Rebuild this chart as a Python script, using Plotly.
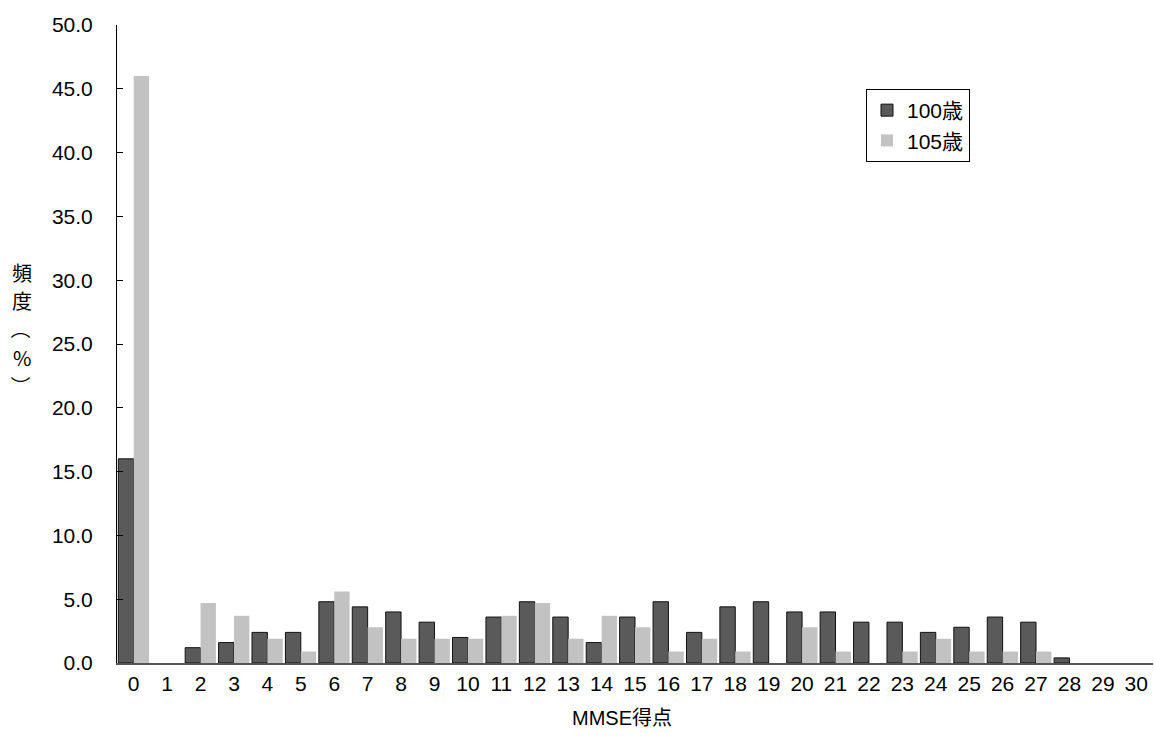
import plotly.graph_objects as go

categories = list(range(31))
tick_labels = [str(c) for c in categories]

age100 = [16.0, 0.0, 1.2, 1.6, 2.4, 2.4, 4.8, 4.4, 4.0, 3.2,
          2.0, 3.6, 4.8, 3.6, 1.6, 3.6, 4.8, 2.4, 4.4, 4.8,
          4.0, 4.0, 3.2, 3.2, 2.4, 2.8, 3.6, 3.2, 0.4, 0.0, 0.0]
age105 = [46.0, 0.0, 4.7, 3.7, 1.9, 0.9, 5.6, 2.8, 1.9, 1.9,
          1.9, 3.7, 4.7, 1.9, 3.7, 2.8, 0.9, 1.9, 0.9, 0.0,
          2.8, 0.9, 0.0, 0.9, 1.9, 0.9, 0.9, 0.9, 0.0, 0.0, 0.0]

y_title_chars = ["頻", "度", "（", "%", "）"]
y_title_angles = [0, 0, 90, 0, 90]

FONT = "Liberation Sans, Arial, Noto Sans CJK JP, sans-serif"

L, R, T, B = 117, 2, 25, 90
W, H = 1155, 753
plot_w = W - L - R
plot_h = H - T - B


def px_x(px):
    return (px - L) / plot_w


def px_y(py):
    return (H - B - py) / plot_h


fig = go.Figure()
fig.add_trace(go.Bar(
    x=categories, y=age100, name="100歳",
    marker=dict(color="#5a5a5a",
                line=dict(color="#111111",
                          width=[1 if v > 0 else 0 for v in age100])),
))
fig.add_trace(go.Bar(
    x=categories, y=age105, name="105歳",
    marker=dict(color="#c2c2c2", line=dict(width=0)),
))

annotations = []
for i, (ch, ang) in enumerate(zip(y_title_chars, y_title_angles)):
    annotations.append(dict(
        text=ch, x=px_x(22), y=px_y(272 + 28.5 * i), xref="paper", yref="paper",
        xanchor="center", yanchor="middle", textangle=ang, showarrow=False,
        font=dict(family="Noto Sans CJK JP", size=20, color="black"),
    ))
annotations.append(dict(
    text="MMSE得点", x=px_x(622), y=px_y(718), xref="paper", yref="paper",
    xanchor="center", yanchor="middle", showarrow=False,
    font=dict(family=FONT, size=20, color="black"),
))

fig.update_layout(
    width=W, height=H,
    margin=dict(l=L, r=R, t=T, b=B),
    paper_bgcolor="white", plot_bgcolor="white",
    barmode="group", bargap=0.08, bargroupgap=0.0,
    font=dict(family=FONT, size=21, color="black"),
    showlegend=True,
    legend=dict(
        x=px_x(866), y=px_y(89), xanchor="left", yanchor="top",
        bgcolor="white", bordercolor="black", borderwidth=1,
        font=dict(family=FONT, size=21, color="black"),
        tracegroupgap=6,
    ),
    xaxis=dict(
        range=[-0.5, 30.5], tickmode="array", tickvals=categories,
        ticktext=tick_labels, showgrid=False, zeroline=False,
        showline=True, linecolor="#555555", linewidth=2,
        ticks="", tickfont=dict(family=FONT, size=21, color="black"),
        ticklabelstandoff=1,
    ),
    yaxis=dict(
        range=[0, 50], dtick=5, tickformat=".1f", showgrid=False,
        zeroline=False, showline=True, linecolor="black", linewidth=1,
        ticks="inside", ticklen=6, tickcolor="black",
        tickfont=dict(family=FONT, size=21, color="black"),
        ticklabelstandoff=19,
    ),
    annotations=annotations,
)

fig.write_html("out.html")
